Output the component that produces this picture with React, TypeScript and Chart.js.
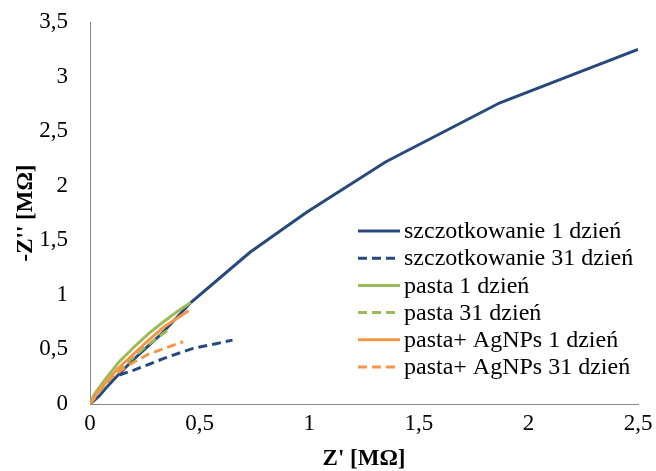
import { useEffect, useRef } from "react";
import { Chart, registerables } from "chart.js";

Chart.register(...registerables);

const seriesNames = [
  "szczotkowanie 1 dzień",
  "szczotkowanie 31 dzień",
  "pasta 1 dzień",
  "pasta 31 dzień",
  "pasta+ AgNPs 1 dzień",
  "pasta+ AgNPs 31 dzień",
];

const brush1X = [0, 0.04, 0.07, 0.13, 0.2, 0.27, 0.33, 0.46, 0.73, 0.99, 1.35, 1.87, 2.5];
const brush1Y = [0, 0.07, 0.14, 0.27, 0.41, 0.54, 0.65, 0.93, 1.39, 1.76, 2.22, 2.76, 3.25];

const brush31X = [0, 0.04, 0.11, 0.2, 0.34, 0.47, 0.58, 0.65];
const brush31Y = [0, 0.12, 0.25, 0.31, 0.42, 0.51, 0.555, 0.585];

const paste1X = [0, 0.02, 0.06, 0.13, 0.2, 0.27, 0.34, 0.4, 0.46];
const paste1Y = [0, 0.09, 0.2, 0.38, 0.52, 0.65, 0.76, 0.85, 0.93];

const paste31X = [0, 0.05, 0.13, 0.25, 0.37];
const paste31Y = [0, 0.13, 0.31, 0.52, 0.7];

const ag1X = [0, 0.02, 0.06, 0.13, 0.2, 0.27, 0.34, 0.45];
const ag1Y = [0, 0.07, 0.17, 0.33, 0.46, 0.59, 0.71, 0.855];

const ag31X = [0, 0.04, 0.1, 0.17, 0.27, 0.34, 0.425];
const ag31Y = [0, 0.12, 0.25, 0.35, 0.46, 0.51, 0.57];

const xTicksMax = 2.5;
const yTicksMax = 3.5;
const tickStep = 0.5;

const BLUE = "#264a7e";
const GREEN = "#9bbb59";
const ORANGE = "#f79646";
const FONT = '"Liberation Serif", "Times New Roman", serif';
const FS = 23;
const LEGEND_FS = 24;

const toPts = (xs: number[], ys: number[]) => xs.map((x, i) => ({ x, y: ys[i] }));

const legendPlugin = {
  id: "customLegend",
  afterDraw(chart: any) {
    const ctx = chart.ctx;
    const area = chart.chartArea;
    const x0 = area.left + 268;
    const y0 = area.top + 209;
    ctx.save();
    ctx.font = `${LEGEND_FS}px ${FONT}`;
    ctx.textBaseline = "middle";
    ctx.textAlign = "left";
    chart.data.datasets.forEach((ds: any, i: number) => {
      const y = y0 + i * 27.2;
      ctx.strokeStyle = ds.borderColor;
      ctx.lineWidth = 3;
      ctx.setLineDash(ds.borderDash || []);
      ctx.beginPath();
      ctx.moveTo(x0, y);
      ctx.lineTo(x0 + 42, y);
      ctx.stroke();
      ctx.setLineDash([]);
      ctx.fillStyle = "#000";
      ctx.fillText(ds.label, x0 + 46, y + 1);
    });
    ctx.restore();
  },
};

export default function App() {
  const ref = useRef<HTMLCanvasElement>(null);

  useEffect(() => {
    if (!ref.current) return;
    const mk = (i: number, pts: any[], color: string, dashed: boolean) => ({
      label: seriesNames[i],
      data: pts,
      borderColor: color,
      backgroundColor: color,
      borderWidth: 3,
      borderDash: dashed ? [9, 5] : [],
      pointRadius: 0,
      showLine: true,
      fill: false,
      tension: 0,
      order: 5 - i,
    });
    const fmt = (v: any) => String(v).replace(".", ",");
    const chart = new Chart(ref.current, {
      type: "scatter",
      data: {
        datasets: [
          mk(0, toPts(brush1X, brush1Y), BLUE, false),
          mk(1, toPts(brush31X, brush31Y), BLUE, true),
          mk(2, toPts(paste1X, paste1Y), GREEN, false),
          mk(3, toPts(paste31X, paste31Y), GREEN, true),
          mk(4, toPts(ag1X, ag1Y), ORANGE, false),
          mk(5, toPts(ag31X, ag31Y), ORANGE, true),
        ],
      },
      options: {
        responsive: false,
        animation: false,
        layout: { padding: { top: 22, right: 18, left: 0, bottom: 0 } },
        plugins: { legend: { display: false }, tooltip: { enabled: false } },
        scales: {
          x: {
            type: "linear",
            min: 0,
            max: xTicksMax,
            ticks: {
              stepSize: tickStep,
              callback: fmt,
              color: "#000",
              font: { family: FONT, size: FS },
              padding: 6,
            },
            grid: { display: false, drawTicks: false },
            border: { display: true, color: "#878787", width: 1 },
            title: {
              display: true,
              text: "Z' [MΩ]",
              color: "#000",
              font: { family: FONT, size: FS, weight: "bold", lineHeight: 1 },
              padding: { top: 0, bottom: 0 },
            },
            afterFit: (s: any) => {
              s.height = 67;
              s.paddingLeft = 0;
              s.paddingRight = 0;
            },
          },
          y: {
            type: "linear",
            min: 0,
            max: yTicksMax,
            ticks: {
              stepSize: tickStep,
              callback: fmt,
              color: "#000",
              font: { family: FONT, size: FS },
              padding: 22,
            },
            grid: { display: false, drawTicks: false },
            border: { display: true, color: "#878787", width: 1 },
            title: {
              display: true,
              text: "-Z'' [MΩ]",
              color: "#000",
              font: { family: FONT, size: FS, weight: "bold", lineHeight: 1 },
              padding: { top: 15, bottom: 0 },
            },
            afterFit: (s: any) => {
              s.width = 90;
              s.paddingTop = 0;
              s.paddingBottom = 0;
            },
          },
        },
      },
      plugins: [legendPlugin],
    } as any);
    return () => chart.destroy();
  }, []);

  return (
    <div style={{ position: "fixed", left: 0, top: 0, width: 656, height: 471, background: "#fff" }}>
      <canvas ref={ref} width={656} height={471} style={{ display: "block" }} />
    </div>
  );
}
